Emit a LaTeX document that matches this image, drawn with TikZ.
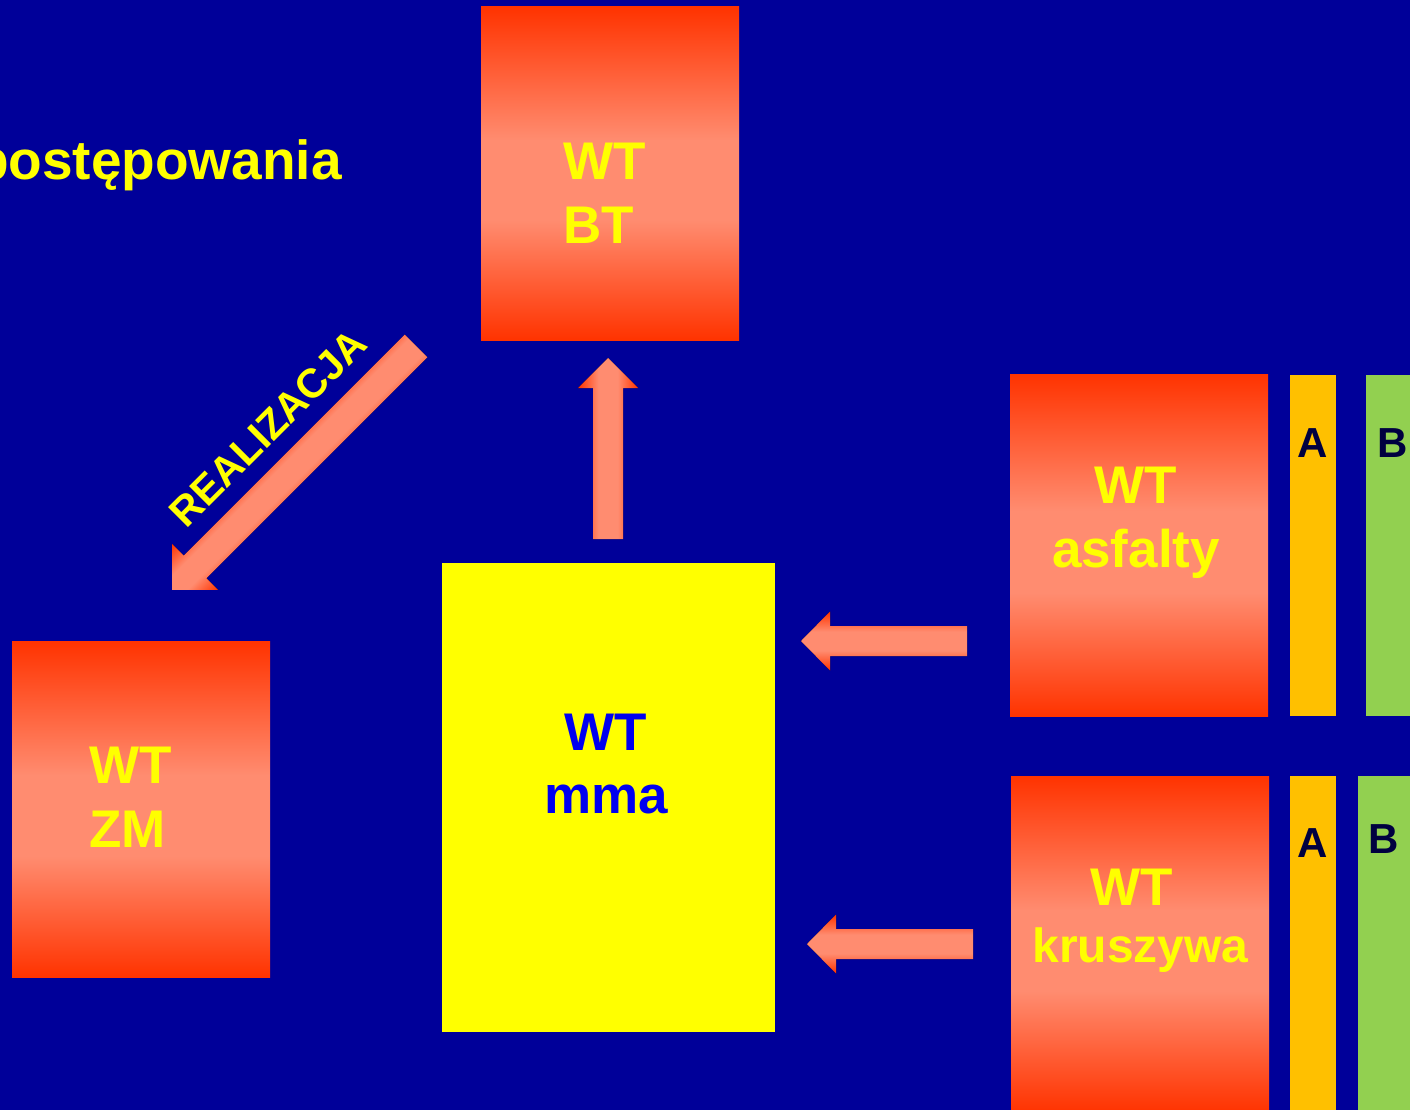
\documentclass[tikz,border=0pt]{standalone}
\usepackage{fontspec}
\setmainfont{Liberation Sans}

\definecolor{bg}{RGB}{0,0,153}
\definecolor{boxred}{RGB}{255,51,0}
\definecolor{salmon}{RGB}{255,140,112}
\definecolor{labelyellow}{RGB}{255,255,0}
\definecolor{mmablue}{RGB}{0,0,240}
\definecolor{barorange}{RGB}{255,192,0}
\definecolor{bargreen}{RGB}{146,208,80}
\definecolor{barletter}{RGB}{0,0,64}

% red - salmon - red fades for the panels and the block arrows
\pgfdeclareverticalshading{boxgrad}{100bp}{color(0bp)=(boxred); color(25bp)=(boxred);
  color(43bp)=(salmon); color(55bp)=(salmon); color(75bp)=(boxred); color(100bp)=(boxred)}
\pgfdeclareverticalshading{arrowgrad}{100bp}{color(0bp)=(boxred); color(25bp)=(boxred);
  color(42bp)=(salmon); color(58bp)=(salmon); color(75bp)=(boxred); color(100bp)=(boxred)}

% block arrow: #1 tail coordinate, #2 direction angle, #3 length,
% #4 half shaft width, #5 half head width, #6 head length
\newcommand\blockarrow[6]{%
  \begin{scope}[transform canvas={shift={(#1)},rotate=#2}, x=1pt, y=1pt]
    \fill[shading=arrowgrad] (0,-#4) -- ({#3-#6},-#4) -- ({#3-#6},-#5) -- (#3,0)
      -- ({#3-#6},#5) -- ({#3-#6},#4) -- (0,#4) -- cycle;
  \end{scope}}

\tikzset{
  panel/.style={rectangle, inner sep=0pt, outer sep=0pt, anchor=north west, shading=boxgrad},
  bar/.style={rectangle, inner sep=0pt, outer sep=0pt, anchor=north west},
  wtlabel/.style={inner sep=0pt, text=labelyellow, align=center,
    font=\fontsize{53}{63.5}\selectfont\bfseries},
  barlabel/.style={inner sep=0pt, anchor=base, text=barletter,
    font=\fontsize{42}{48}\selectfont\bfseries},
}

\begin{document}
\begin{tikzpicture}[x=1pt, y=-1pt]
  \useasboundingbox (0,0) rectangle (1410,1110);
  \clip (0,0) rectangle (1410,1110);
  \fill[bg] (0,0) rectangle (1410,1110);

  % heading
  \node[inner sep=0pt, anchor=base east, text=labelyellow,
        font=\fontsize{55}{62}\selectfont\bfseries] (title) at (342,180) {postępowania};

  % panels
  \node[panel, minimum width=258pt, minimum height=333pt] (bt) at (481,7) {};
  \node[panel, minimum width=258pt, minimum height=336pt] (zm) at (12,641) {};
  \node[bar, fill=labelyellow, minimum width=333pt, minimum height=469pt] (mma) at (442,563) {};
  \node[panel, minimum width=258pt, minimum height=342pt] (asf) at (1010,374) {};
  \node[panel, minimum width=258pt, minimum height=336pt] (kru) at (1011,776) {};

  % class bars
  \node[bar, fill=barorange, minimum width=46pt, minimum height=341pt] (asfA) at (1290,375) {};
  \node[bar, fill=bargreen, minimum width=46pt, minimum height=341pt] (asfB) at (1366,375) {};
  \node[bar, fill=barorange, minimum width=46pt, minimum height=336pt] (kruA) at (1290,776) {};
  \node[bar, fill=bargreen, minimum width=54pt, minimum height=336pt] (kruB) at (1358,776) {};

  % panel labels (base = baseline of the last line)
  \node[wtlabel, align=left, anchor=base west] (btT) at (563,243.5) {WT\\BT};
  \node[wtlabel, align=left, anchor=base west] (zmT) at (89,847) {WT\\ZM};
  \node[wtlabel, anchor=base, text=mmablue] (mmaT) at (606,813.5) {WT\\mma};
  \node[wtlabel, anchor=base] (asfT) at (1136,567) {WT\\asfalty};
  \node[wtlabel, anchor=base] (kruT) at (1132,905) {WT};
  \node[wtlabel, anchor=base, font=\fontsize{48}{57}\selectfont\bfseries] (kruW) at (1140.5,962) {kruszywa};

  \node[barlabel] (asfAT) at (1313,457) {A};
  \node[barlabel] (asfBT) at (1393,457) {B};
  \node[barlabel] (kruAT) at (1313,857) {A};
  \node[barlabel] (kruBT) at (1383.5,853) {B};

  % arrow ends
  \coordinate (upTail) at (608,539);
  \coordinate (asfTail) at (967,641);
  \coordinate (kruTail) at (973,944);
  \coordinate (realTail) at (416,346);

  \blockarrow{upTail}{90}{181}{15}{30}{30}
  \blockarrow{asfTail}{180}{166}{15}{29.5}{29}
  \blockarrow{kruTail}{180}{166}{15}{29.5}{29}
  \blockarrow{realTail}{225}{345}{16}{32.5}{32.5}

  \node[inner sep=0pt, rotate=45, text=labelyellow,
        font=\fontsize{41}{48}\selectfont\bfseries] (real) at (268,428) {REALIZACJA};
\end{tikzpicture}
\end{document}
